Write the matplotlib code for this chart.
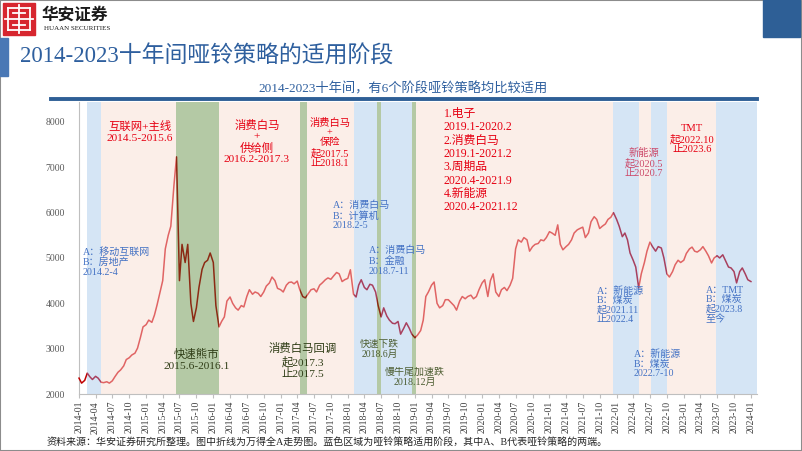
import numpy as np
import pandas as pd
import matplotlib
matplotlib.use("Agg")
import matplotlib.pyplot as plt
import matplotlib.dates as mdates
from matplotlib.patches import Rectangle
from matplotlib.lines import Line2D

FAM = ['Liberation Serif', 'Noto Sans CJK SC']
plt.rcParams['font.family'] = FAM
plt.rcParams['axes.unicode_minus'] = False

v2014 = [2350, 2240, 2300, 2460, 2380, 2320, 2390, 2350, 2260, 2250, 2270, 2240,
         2290, 2380, 2480, 2530, 2620, 2760, 2800, 2860, 2900, 3010, 3250, 3480]
v2015 = [3530, 3630, 3580, 3740, 3960, 4200, 4500, 5200, 5500, 5700, 6600, 7230,
         4500, 5300, 4900, 5300, 4000, 3600, 3900, 4350, 4750, 4900, 4950, 5110]
v2016 = [4900, 3950, 3480, 3600, 3700, 4050, 4140, 4000, 3900, 3850, 3950, 3920,
         4150, 4300, 4200, 4250, 4220, 4150, 4250, 4380, 4450, 4580, 4500, 4330]
v2017 = [4300, 4250, 4400, 4460, 4470, 4430, 4490, 4300, 4150, 4120, 4220, 4300,
         4320, 4250, 4400, 4450, 4520, 4560, 4530, 4600, 4680, 4650, 4480, 4520]
v2018 = [4550, 4740, 4200, 4140, 4400, 4520, 4350, 4300, 4420, 4400, 4250, 3950,
         3700, 3900, 3720, 3630, 3560, 3550, 3600, 3320, 3450, 3570, 3450, 3320]
v2019 = [3240, 3300, 3400, 3630, 4150, 4250, 4400, 4470, 4000, 3900, 3950, 4080,
         4080, 4020, 3950, 3850, 4050, 4150, 4100, 4150, 4180, 4100, 4150, 4300]
v2020 = [4450, 4520, 4150, 4500, 4650, 4250, 4150, 4300, 4350, 4280, 4400, 4550,
         5200, 5400, 5350, 5450, 5400, 5150, 5250, 5300, 5320, 5400, 5380, 5450]
v2021 = [5580, 5550, 5500, 5730, 5300, 5180, 5250, 5300, 5400, 5550, 5620, 5650,
         5680, 5450, 5550, 5800, 5910, 5850, 5650, 5700, 5750, 5850, 5900, 6000]
v2022 = [5850, 5700, 5470, 5550, 5400, 5110, 4950, 4800, 4340, 4650, 4900, 5150,
         5350, 5250, 5150, 5250, 5220, 5000, 4650, 4580, 4700, 4850, 4950, 4900]
v2023 = [4950, 5100, 5200, 5240, 5150, 5130, 5180, 5250, 5150, 5050, 4890, 5000,
         5050, 5000, 5070, 4950, 4800, 4780, 4700, 4450, 4700, 4780, 4650, 4520]
v2024 = [4480]

values = v2014 + v2015 + v2016 + v2017 + v2018 + v2019 + v2020 + v2021 + v2022 + v2023 + v2024
dates = pd.date_range('2014-01-01', '2024-01-01', freq='SMS')

# 阶段: b = 哑铃策略 (blue), p = 主线 (pink), g = 下跌 (green), w = none
bands = [
    ('2013-12-01', '2014-02-15', 'w'),
    ('2014-02-15', '2014-05-01', 'b'),
    ('2014-05-01', '2015-06-10', 'p'),
    ('2015-06-10', '2016-02-01', 'g'),
    ('2016-02-01', '2017-04-15', 'p'),
    ('2017-04-15', '2017-05-25', 'g'),
    ('2017-05-25', '2018-02-01', 'p'),
    ('2018-02-01', '2018-06-10', 'b'),
    ('2018-06-10', '2018-07-01', 'g'),
    ('2018-07-01', '2018-12-15', 'b'),
    ('2018-12-15', '2019-01-05', 'g'),
    ('2019-01-05', '2021-12-10', 'p'),
    ('2021-12-10', '2022-05-01', 'b'),
    ('2022-05-01', '2022-07-05', 'p'),
    ('2022-07-05', '2022-10-01', 'b'),
    ('2022-10-01', '2023-06-25', 'p'),
    ('2023-06-25', '2024-02-10', 'b'),
]
band_colors = {'w': '#ffffff', 'b': '#d5e5f5', 'p': '#fbeee8', 'g': '#b4c9a5'}
line_colors = {'w': '#c00000', 'b': '#a8405e', 'p': '#e06464', 'g': '#8c2a14'}

RED = '#e60012'
BLUE = '#4472c4'
GREEN = '#2f3d16'
TITLE = '#2e5f9e'

W, H = 802, 451
fig = plt.figure(figsize=(W / 100, H / 100), dpi=100)


def fx(x):
    return x / W


def fy(y):
    return 1 - y / H


# header decorations
fig.patches.append(Rectangle((0, 0), 1, 1, fill=False, edgecolor='#8c8c8c', lw=1.5,
                             transform=fig.transFigure))
fig.patches.append(Rectangle((fx(763), fy(37)), fx(800) - fx(763), fy(0) - fy(37),
                             color='#2e5f96', transform=fig.transFigure))
fig.patches.append(Rectangle((fx(0), fy(76)), fx(8), fy(38) - fy(76),
                             color='#4a78b5', transform=fig.transFigure))
# logo
fig.patches.append(Rectangle((fx(3), fy(35)), fx(32), fy(3) - fy(35),
                             color='#d7262f', transform=fig.transFigure))
for seg in [((8, 8), (30, 8)), ((8, 30), (30, 30)), ((8, 8), (8, 30)), ((30, 8), (30, 30)),
            ((19, 5), (19, 33)), ((5, 19), (33, 19)), ((13, 13), (25, 13)), ((13, 25), (25, 25))]:
    (x0, y0), (x1, y1) = seg
    fig.lines.append(Line2D([fx(x0), fx(x1)], [fy(y0), fy(y1)], color='white', lw=1.3,
                            transform=fig.transFigure))
fig.text(fx(42), fy(15), '华安证券', fontsize=12, fontweight='bold', color='#1a1a1a',
         family=['Noto Sans CJK SC'], va='center', ha='left')
fig.text(fx(44), fy(29), 'HUAAN SECURITIES', fontsize=5, color='#1a1a1a',
         va='center', ha='left')

fig.text(fx(20), fy(57), '2014-2023十年间哑铃策略的适用阶段', fontsize=16.5, color=TITLE,
         va='center', ha='left')
fig.text(fx(403), fy(89), '2014-2023十年间，有6个阶段哑铃策略均比较适用', fontsize=9.5,
         color=TITLE, va='center', ha='center')
fig.lines.append(Line2D([fx(51), fx(757)], [fy(99), fy(99)], color='#2e5f96', lw=2.8,
                        transform=fig.transFigure))
fig.text(fx(47), fy(442), '资料来源：华安证券研究所整理。图中折线为万得全A走势图。'
         '蓝色区域为哑铃策略适用阶段，其中A、B代表哑铃策略的两端。',
         fontsize=7.2, color='#262626', va='center', ha='left')

ax = fig.add_axes([fx(79), fy(394), fx(757) - fx(79), fy(102) - fy(394)])

for s, e, k in bands:
    span = ax.axvspan(pd.Timestamp(s).to_pydatetime(), pd.Timestamp(e).to_pydatetime(),
                      color=band_colors[k], lw=0, zorder=1)
    ln, = ax.plot(dates, values, color=line_colors[k], lw=1.1, zorder=3)
    ln.set_clip_path(span)

ax.set_xlim(pd.Timestamp('2014-01-01').to_pydatetime(), pd.Timestamp('2024-02-03').to_pydatetime())
ax.set_ylim(2000, 8440)
ax.set_yticks([2000, 3000, 4000, 5000, 6000, 7000, 8000])
ax.xaxis.set_major_locator(mdates.MonthLocator(bymonth=[1, 4, 7, 10]))
ax.xaxis.set_major_formatter(mdates.DateFormatter('%Y-%m'))
ax.tick_params(axis='x', rotation=90, labelsize=7, colors='#404040', length=3,
               color='#bfbfbf', pad=2)
ax.tick_params(axis='y', labelsize=7, colors='#595959', length=0, pad=10)
for s in ['top', 'right']:
    ax.spines[s].set_visible(False)
for s in ['left', 'bottom']:
    ax.spines[s].set_color('#bfbfbf')
    ax.spines[s].set_linewidth(0.8)


def note(d, v, txt, color, size, ha='center', va='center', ls=1.2):
    ax.text(pd.Timestamp(d).to_pydatetime(), v, txt, color=color, fontsize=size,
            ha=ha, va=va, linespacing=ls, zorder=5)


note('2014-01-22', 5243, 'A：移动互联网\nB：房地产\n2014.2-4', BLUE, 7.2, ha='left', va='top', ls=1.1)
note('2014-11-27', 7780, '互联网+主线\n2014.5-2015.6', RED, 8.2, ls=1.25)
note('2016-08-25', 7559, '消费白马\n+\n供给侧\n2016.2-2017.3', RED, 8.2, ls=1.15)
note('2017-09-25', 7537, '消费白马\n+\n保险\n起2017.5\n止2018.1', RED, 7.4, ls=1.1)
note('2017-10-12', 6258, 'A：消费白马\nB：计算机\n2018.2-5', BLUE, 7.2, ha='left', va='top', ls=1.1)
note('2018-04-25', 5265, 'A：消费白马\nB：金融\n2018.7-11', BLUE, 7.2, ha='left', va='top', ls=1.1)
note('2019-06-06', 8309, '1.电子\n2019.1-2020.2\n2.消费白马\n2019.1-2021.2\n3.周期品\n'
     '2020.4-2021.9\n4.新能源\n2020.4-2021.12', RED, 8.5, ha='left', va='top', ls=1.15)
note('2022-05-28', 7096, '新能源\n起2020.5\n止2020.7', '#cc4a6a', 7.4, ls=1.05)
note('2023-02-15', 7625, 'TMT\n起2022.10\n止2023.6', RED, 7.6, ls=1.05)
note('2021-09-15', 4383, 'A：新能源\nB：煤炭\n起2021.11\n止2022.4', BLUE, 7.2, ha='left', va='top', ls=1.05)
note('2022-04-03', 2993, 'A：新能源\nB：煤炭\n2022.7-10', BLUE, 7.2, ha='left', va='top', ls=1.1)
note('2023-05-01', 4383, 'A：TMT\nB：煤炭\n起2023.8\n至今', BLUE, 7.2, ha='left', va='top', ls=1.05)
note('2015-10-03', 2750, '快速熊市\n2015.6-2016.1', GREEN, 8.2, ls=1.3)
note('2017-05-01', 2728, '消费白马回调\n起2017.3\n止2017.5', GREEN, 8.2, ls=1.2)
note('2018-06-23', 2993, '快速下跌\n2018.6月', '#4d5e32', 7.0, ls=1.15)
note('2019-01-01', 2375, '慢牛尾加速跌\n2018.12月', '#4d5e32', 7.2, ls=1.15)

fig.savefig('out.png', dpi=100)
